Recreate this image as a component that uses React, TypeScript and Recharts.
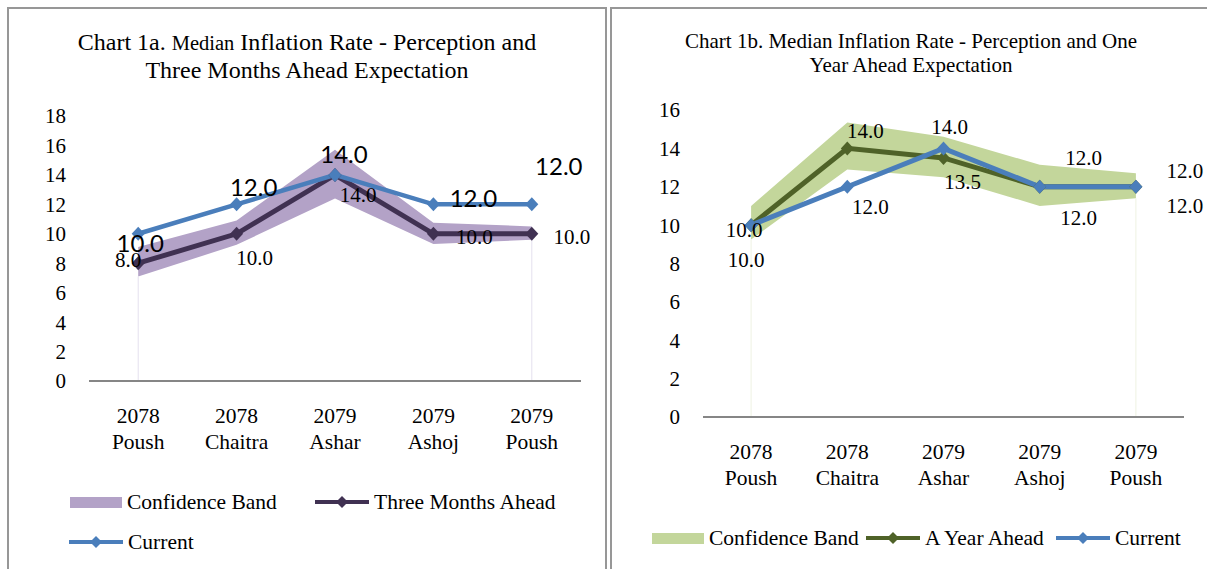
import React from 'react'
import { ComposedChart, Line, Area, XAxis, YAxis, LabelList, ReferenceLine } from 'recharts'

// survey periods (Nepali calendar)
const periods = ['2078 Poush', '2078 Chaitra', '2079 Ashar', '2079 Ashoj', '2079 Poush']

// chart 1a
const current = [10, 12, 14, 12, 12]
const threeMonthsAhead = [8, 10, 14, 10, 10]
const band3mLow = [7.1, 9.25, 12.4, 9.3, 9.6]
const band3mHigh = [9.1, 10.9, 15.7, 10.75, 10.5]
const ticks1a = [0, 2, 4, 6, 8, 10, 12, 14, 16, 18]

// chart 1b
const oneYearAhead = [10, 14, 13.5, 12, 12]
const band1yLow = [9.25, 12.9, 12.5, 11.0, 11.4]
const band1yHigh = [11.0, 15.35, 14.6, 13.15, 12.7]
const ticks1b = [0, 2, 4, 6, 8, 10, 12, 14, 16]

const data1a = periods.map((period, i) => ({
  period,
  current: current[i],
  ahead: threeMonthsAhead[i],
  band: [band3mLow[i], band3mHigh[i]],
}))

const data1b = periods.map((period, i) => ({
  period,
  current: current[i],
  ahead: oneYearAhead[i],
  band: [band1yLow[i], band1yHigh[i]],
}))

const SERIF = '"Liberation Serif", "Times New Roman", serif'
const BLUE = '#4a7ebb'
const PURPLE_LINE = '#403152'
const PURPLE_BAND = '#b3a2c7'
const GREEN_LINE = '#4f6228'
const GREEN_BAND = '#c3d69b'

// hand placed label offsets (Excel moved these by hand)
const curOffsets1a = [[2, 9], [17, -18], [9, -21], [40, -7], [27, -39]]
const aheadOffsets1a = [[-10, -3], [18, 24], [23, 20], [41, 3], [40, 3]]
const curOffsets1b = [[-7, 5], [23, 20], [6, -21], [44, -29], [49, -16]]
const aheadOffsets1b = [[-5, 35], [18, -17], [19, 24], [39, 31], [49, 19]]

const diamond = (color: string) => (props: any) => {
  const { cx, cy, index } = props
  if (cx == null || cy == null) return <g key={index} />
  return (
    <path
      key={index}
      d={`M${cx},${cy - 7}L${cx + 6.5},${cy}L${cx},${cy + 7}L${cx - 6.5},${cy}Z`}
      fill={color}
    />
  )
}

const offsetLabel = (offsets: number[][], font: React.CSSProperties) => (props: any) => {
  const { x, y, value, index } = props
  const [dx, dy] = offsets[index] || [0, 0]
  return (
    <text
      x={Number(x) + dx}
      y={Number(y) + dy}
      textAnchor="middle"
      dominantBaseline="central"
      fill="#000"
      style={font}
    >
      {Number(value).toFixed(1)}
    </text>
  )
}

const PeriodTick = (props: any) => {
  const { x, y, payload } = props
  const [year, month] = String(payload.value).split(' ')
  return (
    <text x={x} textAnchor="middle" fill="#000" style={{ fontFamily: SERIF, fontSize: 21.5 }}>
      <tspan x={x} y={y + 42}>{year}</tspan>
      <tspan x={x} y={y + 68}>{month}</tspan>
    </text>
  )
}

const LineIcon = ({ color }: { color: string }) => (
  <svg width={54} height={14} style={{ display: 'block' }}>
    <line x1={0} y1={7} x2={54} y2={7} stroke={color} strokeWidth={4} />
    <path d="M27,1L33,7L27,13L21,7Z" fill={color} />
  </svg>
)

const BoxIcon = ({ color }: { color: string }) => (
  <div style={{ width: 52, height: 11, background: color }} />
)

const LegendItem = ({ x, y, icon, label }: { x: number, y: number, icon: React.ReactNode, label: string }) => (
  <div style={{ position: 'absolute', left: x, top: y - 12, height: 24, display: 'flex', alignItems: 'center', gap: 5, fontFamily: SERIF, fontSize: 21.5, whiteSpace: 'nowrap' }}>
    {icon}
    <span>{label}</span>
  </div>
)

export default function App() {
  const sansLabel: React.CSSProperties = { fontFamily: 'Lato, "Open Sans", sans-serif', fontSize: 24 }
  const serifLabel: React.CSSProperties = { fontFamily: SERIF, fontSize: 21 }
  const serifTick = { fontFamily: SERIF, fontSize: 21, fill: '#000' }

  return (
    <div style={{ position: 'absolute', left: 0, top: 0, width: 1207, height: 569, overflow: 'hidden', background: '#fff' }}>
      {/* panel frames */}
      <div style={{ position: 'absolute', left: 7, top: 7, width: 596, height: 600, border: '2px solid #979797' }} />
      <div style={{ position: 'absolute', left: 610, top: 7, width: 700, height: 600, border: '2px solid #979797' }} />

      {/* titles */}
      <div style={{ position: 'absolute', left: 7, top: 29, width: 600, textAlign: 'center', fontFamily: SERIF, fontSize: 24, lineHeight: '27px', whiteSpace: 'nowrap' }}>
        Chart 1a. <span style={{ fontSize: 20.5 }}>Median</span> Inflation Rate - Perception and<br />Three Months Ahead Expectation
      </div>
      <div style={{ position: 'absolute', left: 611, top: 29, width: 600, textAlign: 'center', fontFamily: SERIF, fontSize: 21, lineHeight: '24px', whiteSpace: 'nowrap' }}>
        Chart 1b. Median Inflation Rate - Perception and One<br />Year Ahead Expectation
      </div>

      {/* chart 1a */}
      <div style={{ position: 'absolute', left: 0, top: 0 }}>
        <ComposedChart width={607} height={569} data={data1a} margin={{ top: 116, right: 26, left: 29, bottom: 148 }}>
          <XAxis dataKey="period" scale="band" height={40} tick={<PeriodTick />} tickLine={false} tickSize={0} tickMargin={0} stroke="#868686" strokeWidth={2} interval={0} />
          <YAxis width={60} domain={[0, 18]} ticks={ticks1a} axisLine={false} tickLine={false} tickSize={0} tickMargin={23} tick={serifTick} interval={0} />
          <ReferenceLine segment={[{ x: periods[0], y: 0 }, { x: periods[0], y: band3mLow[0] }]} stroke="#e4e0ee" />
          <ReferenceLine segment={[{ x: periods[4], y: 0 }, { x: periods[4], y: band3mLow[4] }]} stroke="#e4e0ee" />
          <Area dataKey="band" type="linear" fill={PURPLE_BAND} fillOpacity={1} stroke="none" isAnimationActive={false} />
          <Line dataKey="ahead" type="linear" stroke={PURPLE_LINE} strokeWidth={5} dot={diamond(PURPLE_LINE)} isAnimationActive={false}>
            <LabelList dataKey="ahead" content={offsetLabel(aheadOffsets1a, serifLabel)} />
          </Line>
          <Line dataKey="current" type="linear" stroke={BLUE} strokeWidth={4.5} dot={diamond(BLUE)} isAnimationActive={false}>
            <LabelList dataKey="current" content={offsetLabel(curOffsets1a, sansLabel)} />
          </Line>
        </ComposedChart>
      </div>

      {/* chart 1b */}
      <div style={{ position: 'absolute', left: 607, top: 0 }}>
        <ComposedChart width={600} height={569} data={data1b} margin={{ top: 110, right: 23, left: 36, bottom: 112 }}>
          <XAxis dataKey="period" scale="band" height={40} tick={<PeriodTick />} tickLine={false} tickSize={0} tickMargin={0} stroke="#868686" strokeWidth={2} interval={0} />
          <YAxis width={60} domain={[0, 16]} ticks={ticks1b} axisLine={false} tickLine={false} tickSize={0} tickMargin={23} tick={serifTick} interval={0} />
          <ReferenceLine segment={[{ x: periods[0], y: 0 }, { x: periods[0], y: band1yLow[0] }]} stroke="#eef2e2" />
          <ReferenceLine segment={[{ x: periods[4], y: 0 }, { x: periods[4], y: band1yLow[4] }]} stroke="#eef2e2" />
          <Area dataKey="band" type="linear" fill={GREEN_BAND} fillOpacity={1} stroke="none" isAnimationActive={false} />
          <Line dataKey="ahead" type="linear" stroke={GREEN_LINE} strokeWidth={5} dot={diamond(GREEN_LINE)} isAnimationActive={false}>
            <LabelList dataKey="ahead" content={offsetLabel(aheadOffsets1b, serifLabel)} />
          </Line>
          <Line dataKey="current" type="linear" stroke={BLUE} strokeWidth={5} dot={diamond(BLUE)} isAnimationActive={false}>
            <LabelList dataKey="current" content={offsetLabel(curOffsets1b, serifLabel)} />
          </Line>
        </ComposedChart>
      </div>

      {/* legends */}
      <LegendItem x={70} y={502} icon={<BoxIcon color={PURPLE_BAND} />} label="Confidence Band" />
      <LegendItem x={315} y={502} icon={<LineIcon color={PURPLE_LINE} />} label="Three Months Ahead" />
      <LegendItem x={69} y={542} icon={<LineIcon color={BLUE} />} label="Current" />
      <LegendItem x={652} y={538} icon={<BoxIcon color={GREEN_BAND} />} label="Confidence Band" />
      <LegendItem x={866} y={538} icon={<LineIcon color={GREEN_LINE} />} label="A Year Ahead" />
      <LegendItem x={1056} y={538} icon={<LineIcon color={BLUE} />} label="Current" />
    </div>
  )
}
